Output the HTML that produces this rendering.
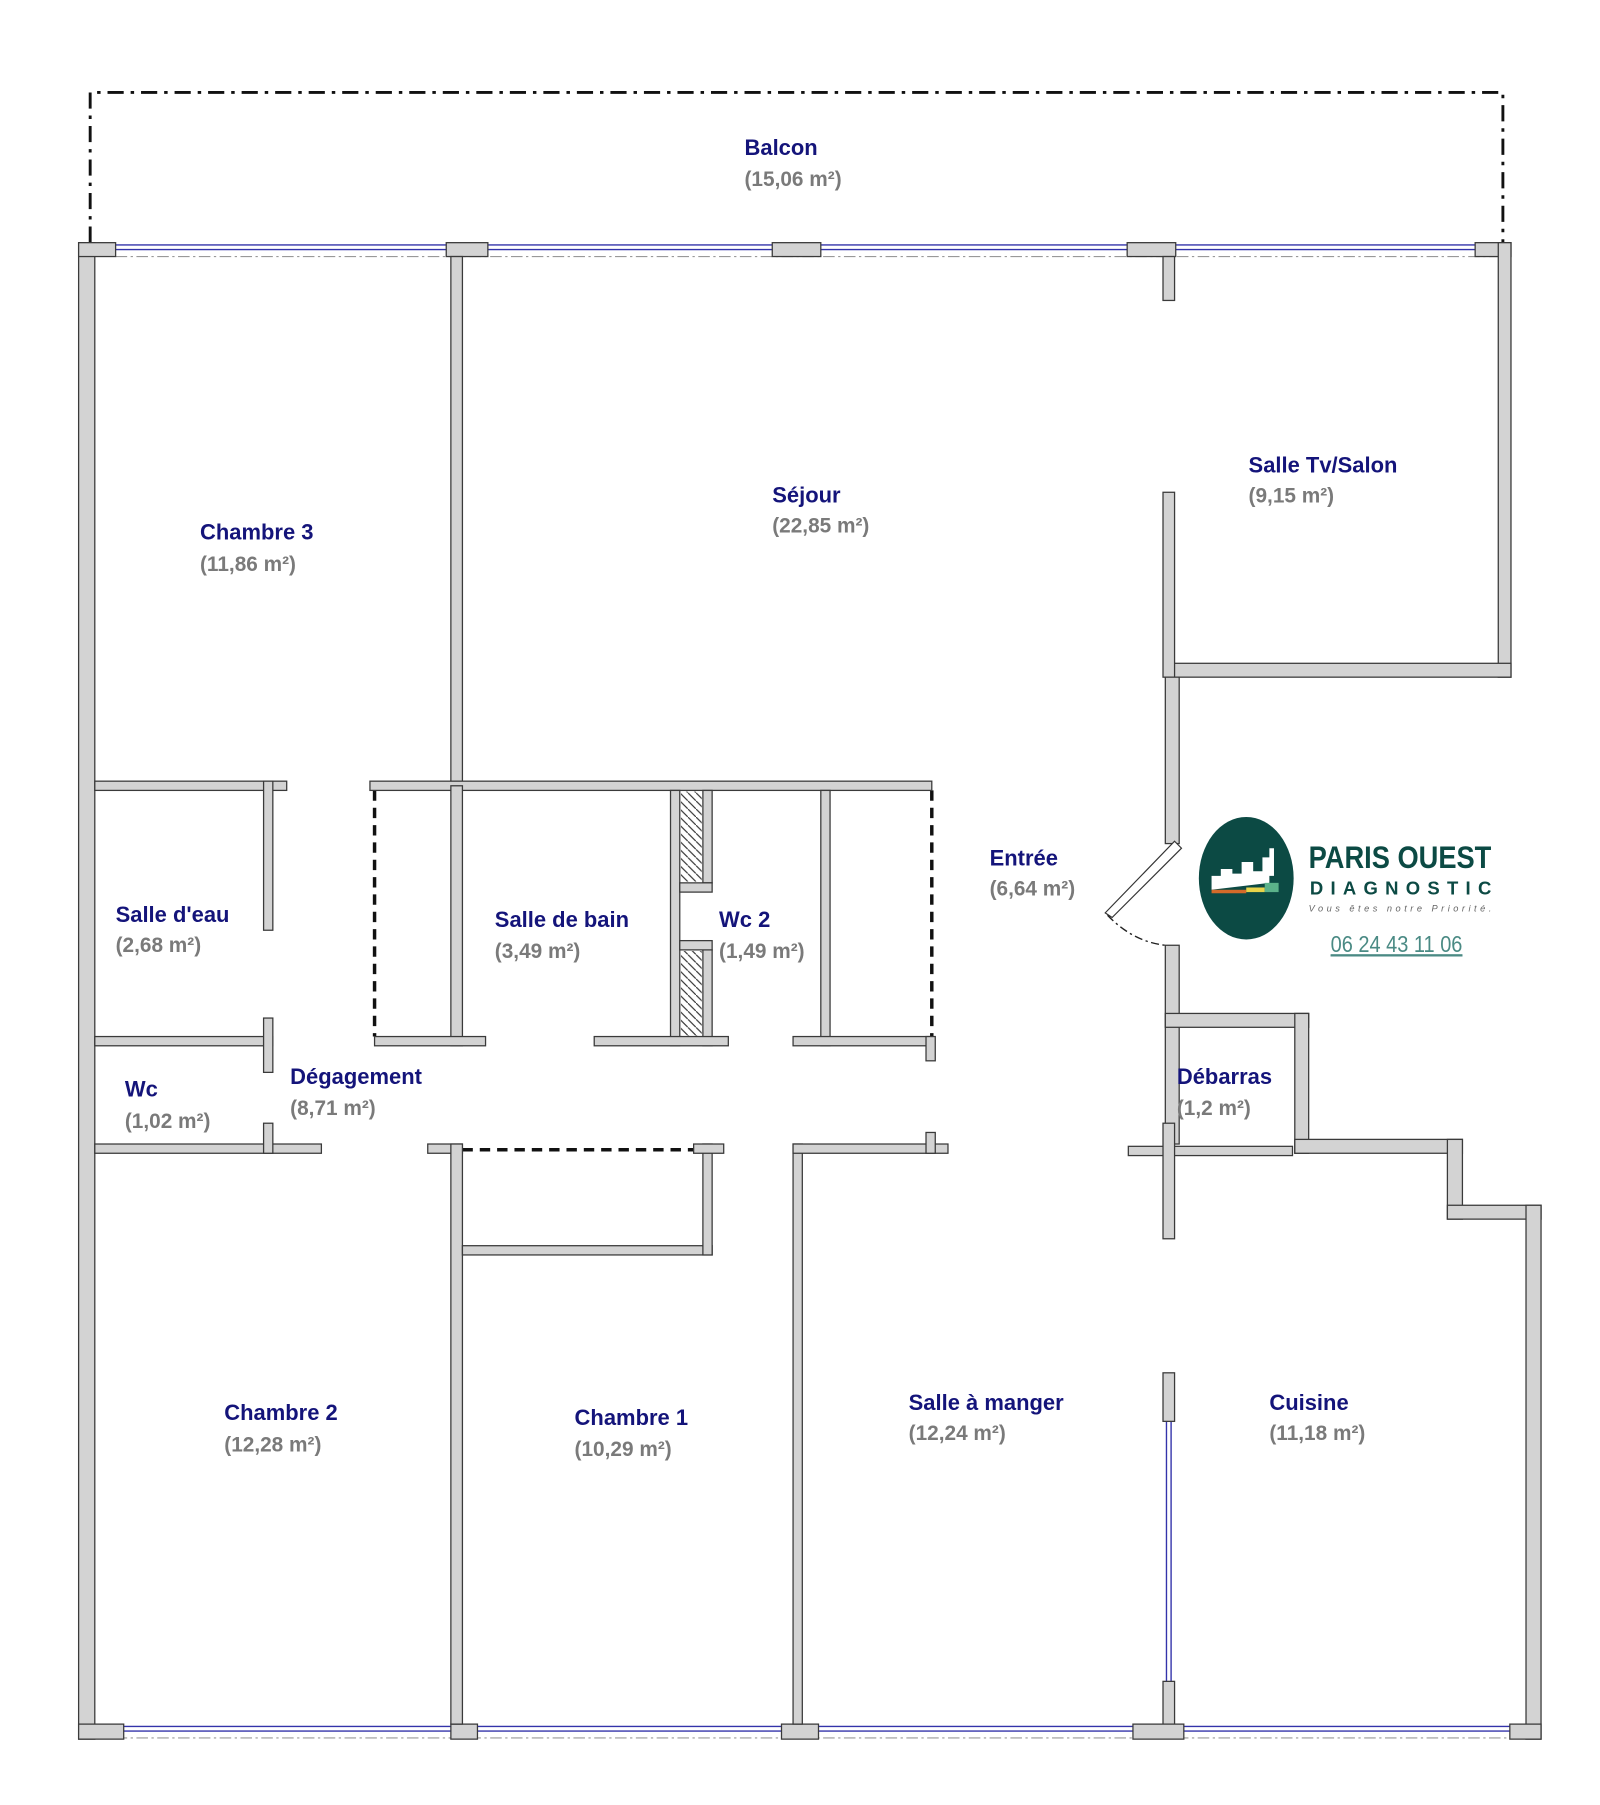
<!DOCTYPE html>
<html><head><meta charset="utf-8"><style>
html,body{margin:0;padding:0;background:#fff;}
svg{display:block;}
.w{fill:#d3d3d3;stroke:#3a3a3a;stroke-width:1.1;}
.n{font-family:"Liberation Sans",sans-serif;font-weight:bold;font-size:19px;fill:#14147a;}
.a{font-family:"Liberation Sans",sans-serif;font-weight:bold;font-size:18px;fill:#7a7a7a;}
.win{stroke:#3333aa;stroke-width:1.2;}
.dd{stroke:#999;stroke-width:1;stroke-dasharray:10 3 2 3;fill:none;}
</style></head><body>
<svg width="1600" height="1805" viewBox="0 0 1384 1562" preserveAspectRatio="none" xmlns="http://www.w3.org/2000/svg">
<defs><pattern id="h" width="7" height="7" patternUnits="userSpaceOnUse"><path d="M0 0L7 7" stroke="#333" stroke-width="1"/></pattern></defs>
<!-- balcony -->
<path d="M78 210 V80 H1300 V218" fill="none" stroke="#111" stroke-width="2.5" stroke-dasharray="14 6 3 6"/>
<!-- windows top -->
<g class="win"><line x1="100" y1="212" x2="1276" y2="212"/><line x1="100" y1="216" x2="1276" y2="216"/></g>
<line class="dd" x1="100" y1="222" x2="1296" y2="222"/>
<!-- windows bottom -->
<g class="win"><line x1="107" y1="1494" x2="1306" y2="1494"/><line x1="107" y1="1498" x2="1306" y2="1498"/></g>
<line class="dd" x1="82" y1="1504" x2="1320" y2="1504"/>
<!-- kitchen glass -->
<g class="win"><line x1="1009" y1="1230" x2="1009" y2="1455"/><line x1="1013" y1="1230" x2="1013" y2="1455"/></g>
<!-- dashed openings -->
<g stroke="#111" stroke-width="3" stroke-dasharray="9 6" fill="none">
<line x1="324" y1="684" x2="324" y2="897"/><line x1="806" y1="684" x2="806" y2="897"/><line x1="400" y1="995" x2="608" y2="995"/></g>
<g class="w">
<!-- outer -->
<rect x="68" y="210" width="14" height="1295"/>
<rect x="68" y="210" width="32" height="12"/><rect x="386" y="210" width="36" height="12"/><rect x="668" y="210" width="42" height="12"/><rect x="975" y="210" width="42" height="12"/><rect x="1276" y="210" width="31" height="12"/>
<rect x="1296" y="210" width="11" height="376"/>
<rect x="1008" y="574" width="299" height="12"/>
<rect x="1006" y="222" width="10" height="38"/>
<rect x="1006" y="426" width="10" height="160"/>
<rect x="1008" y="586" width="12" height="144"/>
<rect x="1008" y="818" width="12" height="172"/>
<rect x="1008" y="877" width="124" height="12"/>
<rect x="1120" y="877" width="12" height="121"/>
<rect x="1120" y="986" width="145" height="12"/>
<rect x="1252" y="986" width="13" height="69"/>
<rect x="1252" y="1043" width="81" height="12"/>
<rect x="1320" y="1043" width="13" height="462"/>
<rect x="976" y="992" width="142" height="8"/>
<rect x="1006" y="972" width="10" height="100"/>
<rect x="1006" y="1188" width="10" height="42"/>
<rect x="1006" y="1455" width="10" height="40"/>
<rect x="68" y="1492" width="39" height="13"/><rect x="390" y="1492" width="23" height="13"/><rect x="676" y="1492" width="32" height="13"/><rect x="980" y="1492" width="44" height="13"/><rect x="1306" y="1492" width="27" height="13"/>
<!-- interior -->
<rect x="390" y="222" width="10" height="458"/>
<rect x="82" y="676" width="166" height="8"/>
<rect x="228" y="676" width="8" height="129"/>
<rect x="320" y="676" width="486" height="8"/>
<rect x="390" y="680" width="10" height="225"/>
<rect x="324" y="897" width="96" height="8"/>
<rect x="580" y="684" width="8" height="221"/>
<rect x="608" y="684" width="8" height="80"/>
<rect x="608" y="822" width="8" height="83"/>
<rect x="588" y="764" width="28" height="8"/>
<rect x="588" y="814" width="28" height="8"/>
<rect x="514" y="897" width="116" height="8"/>
<rect x="710" y="684" width="8" height="221"/>
<rect x="686" y="897" width="120" height="8"/>
<rect x="801" y="897" width="8" height="21"/>
<rect x="82" y="897" width="154" height="8"/>
<rect x="228" y="881" width="8" height="47"/>
<rect x="82" y="990" width="196" height="8"/>
<rect x="228" y="972" width="8" height="26"/>
<rect x="370" y="990" width="30" height="8"/>
<rect x="390" y="990" width="10" height="502"/>
<rect x="400" y="1078" width="216" height="8"/>
<rect x="608" y="990" width="8" height="96"/>
<rect x="600" y="990" width="26" height="8"/>
<rect x="686" y="990" width="8" height="502"/>
<rect x="686" y="990" width="134" height="8"/>
<rect x="801" y="980" width="8" height="18"/>
</g>
<rect x="589" y="685" width="18" height="78" fill="url(#h)"/>
<rect x="589" y="823" width="18" height="74" fill="url(#h)"/>
<!-- door -->
<polygon points="1016,728 1022,734 962,794 956,790" fill="#fff" stroke="#333" stroke-width="1"/>
<path d="M958 792 Q980 815 1008 818" fill="none" stroke="#222" stroke-width="1.2" stroke-dasharray="7 3 2 3"/>
<!-- logo -->
<ellipse cx="1078" cy="760" rx="41" ry="53" fill="#0c4a44"/>
<path d="M1048 770 V758 h8 v-6 h10 v4 h8 v-10 h10 v8 h8 v-12 h6 v-8 h4 v24 h-4 v6 z" fill="#fff"/>
<rect x="1048" y="770" width="30" height="3" fill="#d46a2a"/><rect x="1078" y="768" width="16" height="4" fill="#e9d44a"/><rect x="1094" y="764" width="12" height="8" fill="#5bb28a"/>
<text x="1132" y="751" font-family="Liberation Sans,sans-serif" font-weight="bold" font-size="27" fill="#0c4a44" textLength="158" lengthAdjust="spacingAndGlyphs">PARIS OUEST</text>
<text x="1133" y="774" font-family="Liberation Sans,sans-serif" font-weight="bold" font-size="16" fill="#0c4a44" textLength="157" lengthAdjust="spacing">DIAGNOSTIC</text>
<text x="1132" y="789" font-family="Liberation Sans,sans-serif" font-style="italic" font-size="8" fill="#666" textLength="158" lengthAdjust="spacing">Vous êtes notre Priorité.</text>
<text x="1151" y="824" font-family="Liberation Sans,sans-serif" font-size="20" fill="#4a8a84" text-decoration="underline" textLength="114" lengthAdjust="spacingAndGlyphs">06 24 43 11 06</text>
<line x1="1151" y1="827" x2="1265" y2="827" stroke="#4a8a84" stroke-width="1.5"/>
<!-- labels -->
<g>
<text class="n" x="644" y="134">Balcon</text><text class="a" x="644" y="161">(15,06 m²)</text>
<text class="n" x="1080" y="409">Salle Tv/Salon</text><text class="a" x="1080" y="435">(9,15 m²)</text>
<text class="n" x="668" y="435">Séjour</text><text class="a" x="668" y="461">(22,85 m²)</text>
<text class="n" x="173" y="467">Chambre 3</text><text class="a" x="173" y="494">(11,86 m²)</text>
<text class="n" x="856" y="749">Entrée</text><text class="a" x="856" y="775">(6,64 m²)</text>
<text class="n" x="100" y="798">Salle d'eau</text><text class="a" x="100" y="824">(2,68 m²)</text>
<text class="n" x="428" y="802">Salle de bain</text><text class="a" x="428" y="829">(3,49 m²)</text>
<text class="n" x="622" y="802">Wc 2</text><text class="a" x="622" y="829">(1,49 m²)</text>
<text class="n" x="108" y="949">Wc</text><text class="a" x="108" y="976">(1,02 m²)</text>
<text class="n" x="251" y="938">Dégagement</text><text class="a" x="251" y="965">(8,71 m²)</text>
<text class="n" x="1018" y="938">Débarras</text><text class="a" x="1018" y="965">(1,2 m²)</text>
<text class="n" x="194" y="1229">Chambre 2</text><text class="a" x="194" y="1256">(12,28 m²)</text>
<text class="n" x="497" y="1233">Chambre 1</text><text class="a" x="497" y="1260">(10,29 m²)</text>
<text class="n" x="786" y="1220">Salle à manger</text><text class="a" x="786" y="1246">(12,24 m²)</text>
<text class="n" x="1098" y="1220">Cuisine</text><text class="a" x="1098" y="1246">(11,18 m²)</text>
</g>
</svg>
</body></html>
